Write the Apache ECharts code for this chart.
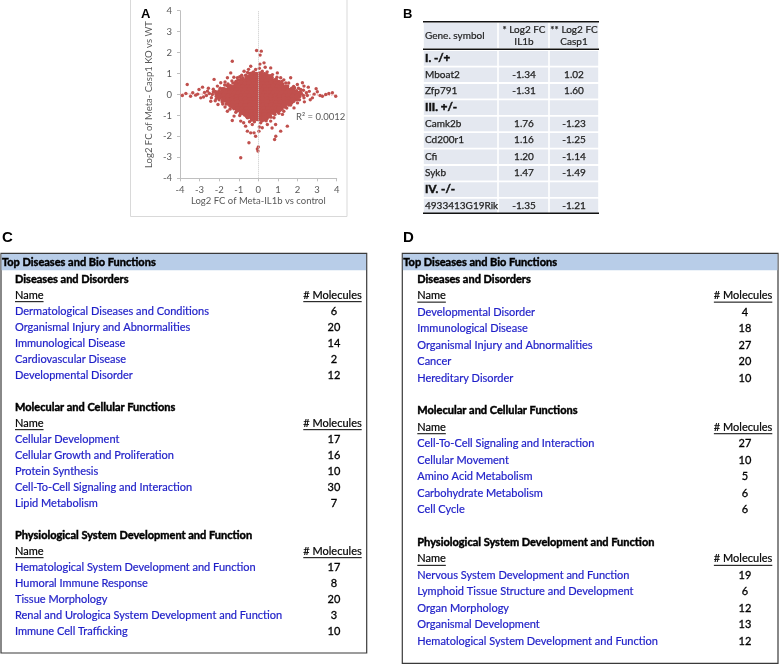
<!DOCTYPE html>
<html><head><meta charset="utf-8">
<script src="https://cdn.jsdelivr.net/npm/echarts/dist/echarts.min.js"></script>
<style>html,body{margin:0;padding:0;background:#fff}#main{width:779px;height:665px}</style>
</head><body><div id="main"></div>
<script>
// ---------- Panel A data ----------
const coreCloud = [
 [-0.33,0.96],[-0.12,0.94],[0.1,0.97],[0.31,0.93],
 [-0.56,0.81],[-0.34,0.79],[-0.12,0.82],[0.1,0.8],[0.32,0.78],[0.53,0.81],
 [-0.87,0.66],[-0.66,0.64],[-0.45,0.67],[-0.23,0.65],[0.0,0.63],[0.22,0.66],[0.43,0.64],[0.65,0.67],[0.86,0.64],
 [-1.12,0.5],[-0.9,0.52],[-0.67,0.49],[-0.45,0.51],[-0.23,0.48],[-0.01,0.51],[0.21,0.5],[0.44,0.48],[0.66,0.51],[0.88,0.49],[1.1,0.52],
 [-1.44,0.36],[-1.22,0.34],[-1.0,0.37],[-0.78,0.35],[-0.56,0.33],[-0.34,0.36],[-0.12,0.34],[0.1,0.36],[0.32,0.33],[0.54,0.35],[0.76,0.37],[0.98,0.34],[1.2,0.36],[1.42,0.33],
 [-1.77,0.21],[-1.55,0.19],[-1.33,0.22],[-1.11,0.2],[-0.89,0.18],[-0.67,0.21],[-0.45,0.19],[-0.23,0.22],[-0.01,0.2],[0.21,0.18],[0.43,0.21],[0.65,0.2],[0.87,0.22],[1.09,0.19],[1.31,0.21],[1.53,0.18],[1.75,0.2],
 [-2.1,0.05],[-1.88,0.07],[-1.66,0.04],[-1.44,0.06],[-1.22,0.03],[-1.0,0.06],[-0.78,0.04],[-0.56,0.07],[-0.34,0.05],[-0.12,0.03],[0.1,0.06],[0.32,0.04],[0.54,0.07],[0.76,0.05],[0.98,0.03],[1.2,0.06],[1.42,0.04],[1.64,0.07],[1.86,0.05],[2.08,0.03],
 [-1.99,-0.1],[-1.77,-0.08],[-1.55,-0.11],[-1.33,-0.09],[-1.11,-0.12],[-0.89,-0.1],[-0.67,-0.08],[-0.45,-0.11],[-0.23,-0.09],[-0.01,-0.12],[0.21,-0.1],[0.43,-0.08],[0.65,-0.11],[0.87,-0.09],[1.09,-0.12],[1.31,-0.1],[1.53,-0.08],[1.75,-0.11],[1.97,-0.09],
 [-1.76,-0.25],[-1.54,-0.27],[-1.32,-0.24],[-1.1,-0.26],[-0.88,-0.23],[-0.66,-0.25],[-0.44,-0.27],[-0.22,-0.24],[0.0,-0.26],[0.22,-0.23],[0.44,-0.25],[0.66,-0.27],[0.88,-0.24],[1.1,-0.26],[1.32,-0.23],[1.54,-0.25],[1.76,-0.27],
 [-1.5,-0.4],[-1.28,-0.42],[-1.06,-0.39],[-0.84,-0.41],[-0.62,-0.38],[-0.4,-0.4],[-0.18,-0.42],[0.04,-0.39],[0.26,-0.41],[0.48,-0.38],[0.7,-0.4],[0.92,-0.42],[1.14,-0.39],[1.36,-0.41],[1.52,-0.38],
 [-1.31,-0.55],[-1.09,-0.57],[-0.87,-0.54],[-0.65,-0.56],[-0.43,-0.53],[-0.21,-0.55],[0.01,-0.57],[0.23,-0.54],[0.45,-0.56],[0.67,-0.53],[0.89,-0.55],[1.11,-0.57],[1.3,-0.54],
 [-1.04,-0.7],[-0.82,-0.72],[-0.6,-0.69],[-0.38,-0.71],[-0.16,-0.68],[0.06,-0.7],[0.28,-0.72],[0.5,-0.69],[0.72,-0.71],[0.94,-0.68],[1.06,-0.7],
 [-0.79,-0.85],[-0.57,-0.87],[-0.35,-0.84],[-0.13,-0.86],[0.09,-0.83],[0.31,-0.85],[0.53,-0.87],[0.77,-0.84],
 [-0.55,-1.0],[-0.33,-1.02],[-0.11,-0.99],[0.11,-1.01],[0.33,-0.98],[0.54,-1.0],
 [-0.28,-1.15],[-0.06,-1.13],[0.16,-1.16],[0.3,-1.14]
];
const fringeCloud = [
 [-0.09,2.1],[0.15,2.07],[0.09,1.88],[-1.33,1.59],[0.29,1.51],[-0.39,1.35],[0.63,1.27],[-0.73,1.11],[0.97,1.03],[-0.14,1.19],[0.2,1.11],[-1.07,0.8],[1.14,0.8],[-1.41,1.03],[-1.58,0.8],[-0.55,1.05],[0.45,1.08],[0.05,1.25],[-0.25,1.08],[0.72,0.95],[-0.85,0.92],[0.08,1.45],[-0.5,1.2],[0.35,1.3],
 [-1.92,0.56],[-2.09,0.4],[-2.26,0.72],[-1.7,0.6],[-1.35,0.65],[-1.25,0.82],[1.3,0.7],[1.55,0.55],[1.65,0.8],[1.99,0.48],[2.25,0.56],[2.33,0.4],[1.8,0.38],[-1.95,0.3],[2.05,0.3],[1.4,0.55],[-1.55,0.5],[-0.95,0.85],[0.95,0.82],[-2.3,0.25],[2.3,0.2],
 [-2.3,0.12],[-2.4,-0.15],[-2.5,0.05],[-2.6,0.16],[-2.65,-0.05],[-2.75,0.1],[-2.8,-0.12],[-2.94,-0.16],[-3.03,0.24],[-3.1,0.02],[-3.2,-0.03],[-3.35,0.08],[-3.46,-0.08],[-3.63,0.48],[-3.88,-0.05],[-2.43,-0.32],[-2.55,0.3],[-2.2,-0.3],[-3.7,0.05],[-2.85,0.35],[-2.35,0.0],
 [2.16,0.24],[2.33,-0.16],[2.45,0.08],[2.5,-0.05],[2.6,0.15],[2.76,-0.16],[2.85,0.02],[3.01,0.13],[3.15,-0.05],[3.27,-0.08],[3.44,0.0],[3.6,0.05],[3.78,0.08],[3.95,-0.08],[2.35,-0.35],[2.55,0.35],[2.2,0.05],[2.3,-0.05],[2.65,-0.25],[2.95,0.28],
 [-2.06,-0.48],[-1.82,-0.45],[-1.58,-0.8],[-1.7,-0.6],[-1.45,-0.7],[-1.24,-1.03],[-1.33,-1.24],[-1.15,-0.85],[-0.95,-1.0],[1.57,-0.32],[1.82,-0.64],[1.65,-0.5],[1.45,-0.65],[1.23,-0.95],[1.3,-0.8],[1.05,-0.9],[0.8,-1.11],[-0.56,-1.11],[0.29,-1.19],[2.0,-0.4],[-2.15,-0.2],[2.1,-0.25],
 [-0.9,-1.27],[0.63,-1.27],[0.12,-1.35],[-0.31,-1.43],[0.46,-1.43],[-0.65,-1.51],[0.2,-1.59],[1.48,-1.51],[-0.56,-1.75],[-0.39,-1.83],[-0.22,-1.83],[0.03,-1.75],[-0.14,-1.99],[0.88,-1.43],[1.14,-1.75],[0.89,-1.99],[0.83,-2.15],[-0.48,-2.3],[0.0,-2.5],[-0.05,-2.6],[-0.02,-2.7],[-0.9,-3.02],[-0.2,-1.3],[0.4,-1.25],[-0.45,-1.3],[0.05,-1.55],[-0.75,-1.35],[0.7,-1.6],
 [-1.6,0.42],[-1.85,0.28],[-2.0,0.18],[-1.3,0.55],[-1.05,0.68],[-0.8,0.8],[-0.65,0.92],[-0.45,1.0],[-1.15,0.62],[-1.5,0.35],[-2.2,0.15],[-1.72,0.45],
 [0.45,0.95],[0.7,0.82],[0.9,0.72],[1.05,0.62],[1.25,0.5],[1.5,0.4],[1.7,0.3],[1.95,0.18],[2.15,0.12],[1.2,0.62],[0.6,0.9],[1.85,0.32],
 [-2.15,-0.08],[-2.0,-0.25],[-1.85,-0.35],[-1.65,-0.45],[-1.45,-0.55],[-1.25,-0.68],[-1.1,-0.78],[-0.92,-0.88],[-0.7,-0.98],[-0.5,-1.1],[-0.35,-1.22],[-1.6,-0.35],
 [2.12,-0.1],[1.95,-0.25],[1.7,-0.4],[1.55,-0.5],[1.4,-0.6],[1.2,-0.7],[0.98,-0.82],[0.85,-0.95],[0.65,-1.08],[0.45,-1.15],[1.6,-0.2],[0.2,-1.25]
];
const trendLine = [[-4, 0.03], [4, -0.03]];
const axisTicks = [-4, -3, -2, -1, 0, 1, 2, 3, 4];
const r2Label = 'R\u00B2 = 0.0012';
const xTitle = 'Log2 FC of Meta-IL1b vs control';
const yTitle = 'Log2 FC of Meta- Casp1 KO vs WT';

// ---------- Panel B data ----------
const tableBHeader = ['Gene. symbol', '* Log2 FC\nIL1b', '** Log2 FC\nCasp1'];
const tableBGenes = ['I. -/+', 'Mboat2', 'Zfp791', 'III. +/-', 'Camk2b', 'Cd200r1', 'Cfi', 'Sykb', 'IV. -/-', '4933413G19Rik'];
const tableBIL1b  = [null, '-1.34', '-1.31', null, '1.76', '1.16', '1.20', '1.47', null, '-1.35'];
const tableBCasp1 = [null, '1.02', '1.60', null, '-1.23', '-1.25', '-1.14', '-1.49', null, '-1.21'];

// ---------- Panel C data ----------
const sectionTitles = ['Diseases and Disorders', 'Molecular and Cellular Functions', 'Physiological System Development and Function'];
const cDisNames = ['Dermatological Diseases and Conditions', 'Organismal Injury and Abnormalities', 'Immunological Disease', 'Cardiovascular Disease', 'Developmental Disorder'];
const cDisCounts = [6, 20, 14, 2, 12];
const cMolNames = ['Cellular Development', 'Cellular Growth and Proliferation', 'Protein Synthesis', 'Cell-To-Cell Signaling and Interaction', 'Lipid Metabolism'];
const cMolCounts = [17, 16, 10, 30, 7];
const cPhysNames = ['Hematological System Development and Function', 'Humoral Immune Response', 'Tissue Morphology', 'Renal and Urologica System Development and Function', 'Immune Cell Trafficking'];
const cPhysCounts = [17, 8, 20, 3, 10];

// ---------- Panel D data ----------
const dDisNames = ['Developmental Disorder', 'Immunological Disease', 'Organismal Injury and Abnormalities', 'Cancer', 'Hereditary Disorder'];
const dDisCounts = [4, 18, 27, 20, 10];
const dMolNames = ['Cell-To-Cell Signaling and Interaction', 'Cellular Movement', 'Amino Acid Metabolism', 'Carbohydrate Metabolism', 'Cell Cycle'];
const dMolCounts = [27, 10, 5, 6, 6];
const dPhysNames = ['Nervous System Development and Function', 'Lymphoid Tissue Structure and Development', 'Organ Morphology', 'Organismal Development', 'Hematological System Development and Function'];
const dPhysCounts = [19, 6, 12, 13, 12];

// ---------- helpers ----------
const FF = 'Lato';
const mctx = document.createElement('canvas').getContext('2d');
function textW(s, font) { mctx.font = font; return mctx.measureText(s).width; }
function T(x, y, s, size, opts) {
  opts = opts || {};
  const weight = opts.bold ? 'bold ' : '';
  const color = opts.color || '#000';
  const st = {
    text: s, font: weight + size + 'px ' + (opts.family || FF),
    fill: color,
    textAlign: opts.align || 'left', align: opts.align || 'left',
    textVerticalAlign: 'middle', verticalAlign: 'middle',
    lineHeight: opts.lineHeight || size * 1.15
  };
  if (opts.heavy) { st.stroke = color; st.lineWidth = opts.heavy; }
  return { type: 'text', x: x, y: y, silent: true, z: 10, style: st };
}
function L(x1, y1, x2, y2, color, w, dash) {
  return { type: 'line', silent: true, z: 9, shape: { x1: x1, y1: y1, x2: x2, y2: y2 },
    style: { stroke: color, lineWidth: w, lineDash: dash || null } };
}
function R(x, y, w, h, fill, stroke, lw) {
  return { type: 'rect', silent: true, z: 5, shape: { x: x, y: y, width: w, height: h },
    style: { fill: fill || 'none', stroke: stroke || 'none', lineWidth: lw || 0 } };
}
function underlined(x, y, s, size, align) {
  const font = size + 'px ' + FF;
  const w = textW(s, font);
  const x0 = align === 'right' ? x - w : x;
  return [T(x, y, s, size, { align: align, heavy: 0.2 }), L(x0, y + size * 0.58, x0 + w, y + size * 0.58, '#000', 1)];
}

const els = [];

// ---------- Panel A frame & labels ----------
els.push(R(130.5, -1, 216.5, 217.5, 'none', '#d9d9d9', 1));
els.push(T(141, 14.5, 'A', 13, { bold: true, family: 'Liberation Sans' }));
els.push(T(296, 116.7, r2Label, 9.5, { color: '#595959' }));

// ---------- Panel B table ----------
(function () {
  els.push(T(403, 14.5, 'B', 13, { bold: true, family: 'Liberation Sans' }));
  const x0 = 423, x1 = 498, x2 = 549, x3 = 599;
  const cols = [[x0, x1], [x1, x2], [x2, x3]];
  const fill = '#e4e8f0';
  cols.forEach(c => els.push(R(c[0] + 0.8, 22.8, c[1] - c[0] - 1.6, 25.2, fill)));
  els.push(T(425, 36, tableBHeader[0], 10, { color: '#222', heavy: 0.2 }));
  els.push(T(524, 36, tableBHeader[1], 10, { color: '#222', align: 'center', lineHeight: 12, heavy: 0.2 }));
  els.push(T(574, 36, tableBHeader[2], 10, { color: '#222', align: 'center', lineHeight: 12, heavy: 0.2 }));
  const rowTop = 50.5, step = 16.4;
  tableBGenes.forEach((g, i) => {
    const top = rowTop + i * step;
    const cy = top + step / 2 - 0.5;
    cols.forEach(c => els.push(R(c[0] + 0.8, top + 0.6, c[1] - c[0] - 1.6, step - 1.8, fill)));
    if (tableBIL1b[i] === null) {
      els.push(T(425, cy, g, 11.5, { bold: true, color: '#111', heavy: 0.5 }));
    } else {
      els.push(T(425, cy, g, 10, { color: '#222', heavy: 0.25 }));
      els.push(T(524, cy, tableBIL1b[i], 10, { color: '#222', align: 'center', heavy: 0.25 }));
      els.push(T(574, cy, tableBCasp1[i], 10, { color: '#222', align: 'center', heavy: 0.25 }));
    }
  });
  els.push(L(x0, 21.7, x3, 21.7, '#111', 1.6));
  els.push(L(x0, 49.2, x3, 49.2, '#111', 1.6));
  els.push(L(x0, 213.3, x3, 213.3, '#111', 1.6));
})();

// ---------- Panels C and D ----------
function funcTable(letter, letterX, box, textX, numX, molRight, y0, step, dis, disC, mol, molC, phys, physC) {
  els.push(T(letterX, 238, letter, 15, { bold: true, family: 'Liberation Sans' }));
  els.push(R(box.x, box.y, box.w, box.h, 'none', '#3a3a3a', 1.2));
  els.push(R(box.x + 0.6, box.y + 0.6, box.w - 1.2, 16.4, '#b8cde8'));
  els.push(T(box.x + 1, box.y + 9.5, 'Top Diseases and Bio Functions', 11, { bold: true, heavy: 0.45 }));
  const groups = [[dis, disC], [mol, molC], [phys, physC]];
  let r = 0;
  groups.forEach((g, gi) => {
    const ys = y0 + r * step;
    els.push(T(textX, ys, sectionTitles[gi], 11, { bold: true, heavy: 0.45 }));
    r++;
    const yn = y0 + r * step;
    underlined(textX, yn, 'Name', 11, 'left').forEach(e => els.push(e));
    underlined(molRight, yn, '# Molecules', 11, 'right').forEach(e => els.push(e));
    r++;
    g[0].forEach((name, k) => {
      const y = y0 + r * step;
      els.push(T(textX, y, name, 11, { color: '#1e1ec8', heavy: 0.2 }));
      els.push(T(numX, y, String(g[1][k]), 11, { align: 'center', heavy: 0.3 }));
      r++;
    });
    r++;
  });
}
funcTable('C', 2, { x: 1, y: 253.3, w: 365.7, h: 399.7 }, 15, 334, 361.7, 279.3, 16.0,
  cDisNames, cDisCounts, cMolNames, cMolCounts, cPhysNames, cPhysCounts);
funcTable('D', 403, { x: 402.3, y: 253.3, w: 375.7, h: 410 }, 417.3, 745, 772.3, 279.3, 16.45,
  dDisNames, dDisCounts, dMolNames, dMolCounts, dPhysNames, dPhysCounts);

// ---------- chart ----------
const chart = echarts.init(document.getElementById('main'), null, { renderer: 'canvas' });
const axisCommon = {
  type: 'value', min: axisTicks[0], max: axisTicks[axisTicks.length - 1], interval: 1,
  axisLine: { show: true, onZero: false, lineStyle: { color: '#bfbfbf', width: 1 } },
  axisTick: { show: true, length: 3, inside: false, lineStyle: { color: '#bfbfbf' } },
  axisLabel: { color: '#595959', fontSize: 9.5, fontFamily: FF },
  splitLine: { show: false },
  nameLocation: 'middle',
  nameTextStyle: { color: '#595959', fontSize: 9.5, fontFamily: FF }
};
chart.setOption({
  animation: false,
  backgroundColor: '#fff',
  grid: { left: 180, top: 10.7, width: 156.7, height: 167.6, containLabel: false },
  xAxis: Object.assign({}, axisCommon, { name: xTitle, nameGap: 18, axisLabel: Object.assign({}, axisCommon.axisLabel, { margin: 7 }) }),
  yAxis: Object.assign({}, axisCommon, { name: yTitle, nameGap: 26, axisLabel: Object.assign({}, axisCommon.axisLabel, { margin: 8 }) }),
  series: [
    {
      type: 'line', data: trendLine, showSymbol: false, z: 1,
      lineStyle: { color: '#e8a0a0', type: 'dotted', width: 1.2 }
    },
    {
      type: 'scatter', data: fringeCloud, symbol: 'circle', symbolSize: 3.4,
      itemStyle: { color: '#c0504d', opacity: 1 }, z: 3,
      markLine: {
        silent: true, symbol: 'none', label: { show: false },
        lineStyle: { color: '#c8c8c8', type: 'dotted', width: 1 },
        data: [{ xAxis: 0 }]
      }
    },
    { type: 'scatter', data: coreCloud, symbol: 'circle', symbolSize: 6, itemStyle: { color: '#c0504d', opacity: 1 }, z: 3 }
  ],
  graphic: { elements: els }
});
</script>
</body></html>
